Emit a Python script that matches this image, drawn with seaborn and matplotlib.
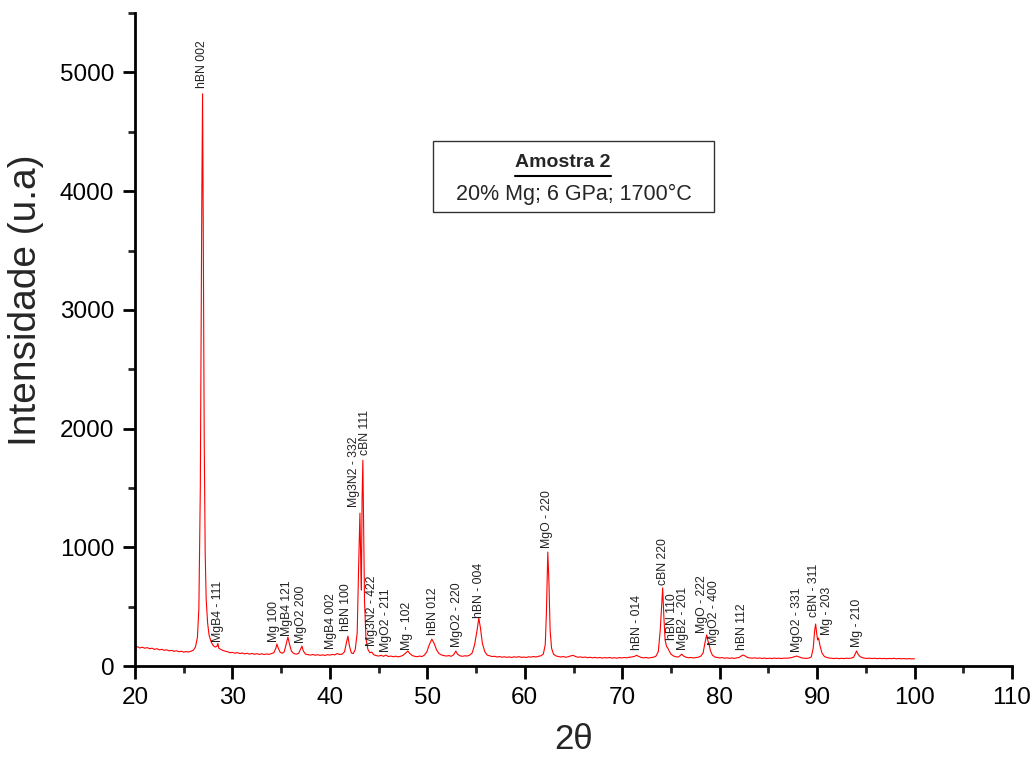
import numpy as np
import pandas as pd
import matplotlib
matplotlib.use("Agg")
import matplotlib.pyplot as plt
import seaborn as sns
from matplotlib.ticker import MultipleLocator
from matplotlib.patches import Rectangle
from matplotlib.lines import Line2D

# ---- XRD profile ----
two_theta = [
    20.0, 20.25, 20.5, 20.75, 21.0, 21.25, 21.5, 21.75, 22.0, 22.25, 22.5, 22.75, 23.0, 23.25, 23.5, 23.75,
    24.0, 24.25, 24.5, 24.75, 25.0, 25.25, 25.5, 25.75, 26.0, 26.2, 26.4, 26.55, 26.7, 26.8, 26.85, 26.93,
    27.0, 27.1, 27.2, 27.3, 27.45, 27.6, 27.8, 28.0, 28.2, 28.4, 28.5, 28.6, 28.8, 29.0, 29.25, 29.5,
    29.75, 30.0, 30.25, 30.5, 30.75, 31.0, 31.25, 31.5, 31.75, 32.0, 32.25, 32.5, 32.75, 33.0, 33.25, 33.5,
    33.75, 34.0, 34.25, 34.45, 34.56, 34.7, 34.9, 35.1, 35.3, 35.5, 35.69, 35.85, 36.05, 36.3, 36.55, 36.8,
    36.98, 37.13, 37.28, 37.5, 37.75, 38.0, 38.25, 38.5, 38.75, 39.0, 39.25, 39.5, 39.75, 40.0, 40.25, 40.5,
    40.75, 41.0, 41.25, 41.5, 41.7, 41.85, 42.0, 42.2, 42.4, 42.6, 42.8, 42.95, 43.08, 43.18, 43.23, 43.3,
    43.38, 43.46, 43.55, 43.7, 43.9, 44.1, 44.3, 44.5, 44.75, 45.0, 45.25, 45.5, 45.75, 46.0, 46.25, 46.5,
    46.75, 47.0, 47.25, 47.5, 47.75, 48.0, 48.2, 48.45, 48.7, 48.95, 49.2, 49.45, 49.7, 49.95, 50.2, 50.46,
    50.7, 50.95, 51.2, 51.45, 51.7, 51.95, 52.2, 52.45, 52.7, 52.92, 53.1, 53.35, 53.6, 53.85, 54.1, 54.35,
    54.6, 54.85, 55.1, 55.28, 55.45, 55.65, 55.9, 56.15, 56.4, 56.65, 56.9, 57.15, 57.4, 57.65, 57.9, 58.15,
    58.4, 58.65, 58.9, 59.15, 59.4, 59.65, 59.9, 60.15, 60.4, 60.65, 60.9, 61.15, 61.4, 61.65, 61.9, 62.1,
    62.22, 62.36, 62.48, 62.6, 62.75, 62.95, 63.2, 63.45, 63.7, 63.95, 64.2, 64.45, 64.7, 64.95, 65.2, 65.45,
    65.7, 65.95, 66.2, 66.45, 66.7, 66.95, 67.2, 67.45, 67.7, 67.95, 68.2, 68.45, 68.7, 68.95, 69.2, 69.45,
    69.7, 69.95, 70.2, 70.45, 70.7, 70.95, 71.2, 71.49, 71.7, 71.95, 72.2, 72.45, 72.7, 72.95, 73.2, 73.45,
    73.7, 73.9, 74.05, 74.15, 74.27, 74.4, 74.55, 74.67, 74.8, 75.0, 75.25, 75.5, 75.75, 75.95, 76.1, 76.3,
    76.55, 76.8, 77.05, 77.3, 77.55, 77.8, 78.05, 78.3, 78.5, 78.67, 78.8, 78.9, 79.05, 79.25, 79.5, 79.75,
    80.0, 80.25, 80.5, 80.75, 81.0, 81.25, 81.5, 81.75, 82.0, 82.2, 82.4, 82.6, 82.85, 83.1, 83.35, 83.6,
    83.85, 84.1, 84.35, 84.6, 84.85, 85.1, 85.35, 85.6, 85.85, 86.1, 86.35, 86.6, 86.85, 87.1, 87.35, 87.6,
    87.9, 88.15, 88.4, 88.65, 88.9, 89.15, 89.4, 89.6, 89.75, 89.85, 89.95, 90.05, 90.15, 90.3, 90.5, 90.75,
    91.0, 91.25, 91.5, 91.75, 92.0, 92.25, 92.5, 92.75, 93.0, 93.25, 93.5, 93.75, 93.9, 94.05, 94.2, 94.4,
    94.65, 94.9, 95.15, 95.4, 95.65, 95.9, 96.15, 96.4, 96.65, 96.9, 97.15, 97.4, 97.65, 97.9, 98.15, 98.4,
    98.65, 98.9, 99.15, 99.4, 99.7, 100.0,
]
intensity = [
    160, 162, 152, 158, 150, 155, 146, 150, 140, 146, 136, 141, 132, 137, 128, 132,
    124, 129, 120, 125, 117, 122, 118, 125, 135, 160, 240, 480, 1500, 3200, 3900, 4820,
    3700, 1900, 950, 560, 360, 260, 205, 175, 160, 165, 190, 150, 140, 132, 125, 120,
    112, 115, 108, 113, 105, 110, 102, 108, 100, 106, 99, 104, 98, 103, 97, 102,
    98, 105, 112, 150, 185, 150, 115, 108, 118, 180, 244, 185, 125, 105, 100, 108,
    140, 168, 125, 100, 96, 92, 97, 91, 95, 90, 94, 89, 96, 92, 98, 94,
    105, 97, 100, 120, 200, 252, 170, 110, 105, 140, 280, 850, 1288, 800, 640, 1400,
    1734, 1150, 550, 230, 140, 112, 118, 95, 88, 84, 90, 82, 92, 80, 84, 78,
    83, 77, 82, 90, 108, 126, 105, 88, 82, 78, 84, 80, 92, 120, 180, 227,
    190, 135, 105, 93, 88, 84, 88, 82, 95, 126, 100, 86, 82, 86, 84, 92,
    110, 180, 300, 404, 320, 190, 120, 92, 86, 80, 82, 76, 80, 74, 78, 73,
    77, 72, 78, 74, 79, 73, 76, 72, 78, 75, 80, 76, 82, 86, 100, 180,
    450, 960, 700, 300, 150, 100, 85, 80, 76, 80, 74, 78, 85, 90, 80, 74,
    77, 72, 76, 70, 74, 69, 73, 68, 72, 67, 71, 68, 72, 67, 70, 66,
    71, 68, 72, 69, 74, 76, 80, 90, 80, 72, 69, 72, 67, 71, 74, 82,
    120, 300, 520, 658, 420, 220, 165, 152, 130, 100, 85, 78, 76, 88, 100, 84,
    74, 70, 72, 68, 71, 74, 82, 110, 200, 262, 210, 186, 130, 92, 76, 72,
    68, 71, 66, 69, 65, 68, 64, 69, 72, 84, 93, 85, 72, 68, 66, 69,
    65, 68, 64, 67, 63, 66, 63, 67, 64, 66, 63, 67, 65, 68, 70, 76,
    84, 76, 69, 66, 64, 67, 76, 150, 300, 354, 280, 220, 236, 170, 110, 80,
    72, 67, 65, 63, 66, 62, 65, 63, 66, 64, 67, 74, 100, 127, 100, 80,
    70, 66, 64, 66, 63, 66, 62, 65, 62, 64, 61, 64, 62, 65, 61, 64,
    61, 63, 60, 62, 60, 61,
]

# ---- peak annotations ----
peak_labels = [
    "hBN 002", "MgB4 - 111", "Mg 100", "MgB4 121", "MgO2 200", "MgB4 002", "hBN 100",
    "Mg3N2 - 332", "cBN 111", "Mg3N2 - 422", "MgO2 - 211", "Mg - 102", "hBN 012",
    "MgO2 - 220", "hBN - 004", "MgO - 220", "hBN - 014", "cBN 220", "hBN 110",
    "MgB2 - 201", "MgO - 222", "MgO2 - 400", "hBN 112", "MgO2 - 331", "cBN - 311",
    "Mg - 203", "Mg - 210",
]
label_2theta = [
    26.87, 28.51, 34.26, 35.59, 37.03, 40.10, 41.64,
    42.5, 43.6, 44.35, 45.74, 47.90, 50.56,
    53.0, 55.28, 62.26, 71.49, 74.15, 75.12,
    76.22, 78.15, 79.45, 82.26, 87.9, 89.72,
    90.98, 94.05,
]
label_base = [
    4865, 202, 202, 253, 194, 143, 295,
    1338, 1776, 168, 118, 135, 261,
    160, 404, 993, 135, 682, 219,
    135, 278, 177, 135, 118, 412,
    261, 160,
]

sample_title = "Amostra 2"
sample_conditions = "20% Mg; 6 GPa; 1700°C"
x_label = "2θ"
y_label = "Intensidade (u.a)"

sns.set_style("ticks")
plt.rcParams['font.family'] = ['Liberation Sans', 'DejaVu Sans']

fig = plt.figure(figsize=(10.34, 7.61), dpi=100)
ax = fig.add_axes([0.1306, 0.1248, 0.8481, 0.858])

df = pd.DataFrame({"two_theta": two_theta, "intensity": intensity})
sns.lineplot(data=df, x="two_theta", y="intensity", color="#ff0000", lw=0.8,
             ax=ax, estimator=None, sort=False)

for name, xv, yv in zip(peak_labels, label_2theta, label_base):
    ax.text(xv, yv, name, rotation=90, ha="center", va="bottom",
            fontsize=8.8, color="#222222")

ax.set_xlim(20, 110)
ax.set_ylim(0, 5500)
ax.xaxis.set_major_locator(MultipleLocator(10))
ax.xaxis.set_minor_locator(MultipleLocator(5))
ax.yaxis.set_major_locator(MultipleLocator(1000))
ax.yaxis.set_minor_locator(MultipleLocator(500))

sns.despine(ax=ax)
for s in ("left", "bottom"):
    ax.spines[s].set_linewidth(2)
    ax.spines[s].set_color("black")
ax.tick_params(which="major", direction="out", length=9, width=2, labelsize=17.5,
               colors="black", pad=6)
ax.tick_params(which="minor", direction="out", length=5, width=2)

ax.set_xlabel(x_label, fontsize=25, labelpad=10)
ax.set_ylabel(y_label, fontsize=28)
ax.yaxis.set_label_coords(-0.104, 0.56)

# sample box
ax.add_patch(Rectangle((0.340, 0.696), 0.320, 0.108, transform=ax.transAxes,
                       facecolor="white", edgecolor="#333333", lw=1.0, zorder=5))
ax.text(0.488, 0.771, sample_title, transform=ax.transAxes, ha="center", va="center",
        fontsize=14, fontweight="bold", zorder=6)
ax.add_line(Line2D([0.433, 0.543], [0.751, 0.751], transform=ax.transAxes,
                   color="black", lw=1.5, zorder=6))
ax.text(0.5, 0.723, sample_conditions, transform=ax.transAxes, ha="center", va="center",
        fontsize=15.5, zorder=6)

fig.savefig("out.png", dpi=100)
